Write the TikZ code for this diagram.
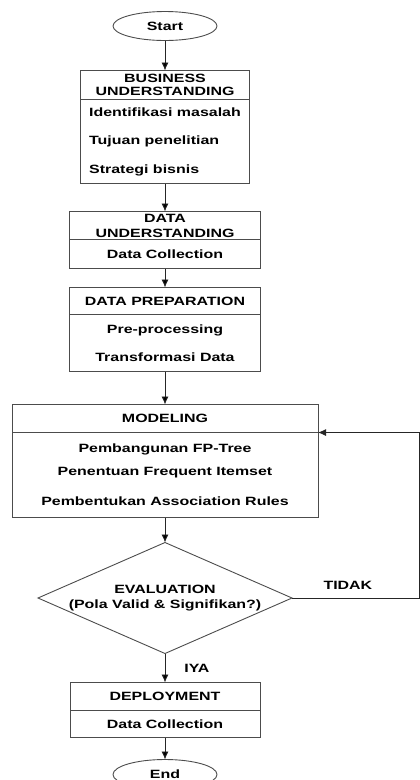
\documentclass[tikz,border=0pt]{standalone}
\usepackage{fontspec}
\setmainfont[FakeStretch=1.33]{Liberation Sans}
\usepackage{xcolor}
\usepackage{tikz}
\usetikzlibrary {positioning}
\usetikzlibrary{arrows.meta}
\usetikzlibrary{shapes.geometric}
\tikzset{edge/.style = {->,> = {Latex[length=8pt,width=7pt]},draw=black!85}}

\begin{document}
\begin{tikzpicture}[auto,node distance=25pt,line width=0.9pt,every node/.style={outer sep=0pt},
    term node/.style={ellipse,draw=black!70,inner sep=0pt,minimum width=104pt,minimum height=29pt,font=\bfseries\fontsize{12}{14}\selectfont},
    head node/.style={rectangle,draw=black!70,inner sep=0pt,align=center,font=\bfseries\fontsize{12}{13.5}\selectfont},
    body node/.style={rectangle,draw=black!70,inner sep=0pt,align=center,font=\bfseries\fontsize{12}{28}\selectfont},
    dec node/.style={diamond,aspect=2.29,draw=black!70,inner sep=0pt,minimum width=254pt,minimum height=111pt,align=center,font=\bfseries\fontsize{12}{15}\selectfont},
    lbl/.style={font=\bfseries\fontsize{12}{14}\selectfont}]
                \useasboundingbox (0,0) rectangle (420pt,-780pt);

                \node[term node] (start) at (165pt,-26pt) {Start};
                \node[head node,minimum width=169pt,minimum height=29pt] (bhead) [below=30pt of start] {BUSINESS\\UNDERSTANDING};
                \node[body node,minimum width=169pt,minimum height=84pt,align=left,font=\bfseries\fontsize{12}{28.5}\selectfont] (bbody) [below=0pt of bhead] {Identifikasi masalah\\Tujuan penelitian\\Strategi bisnis};
                \node[head node,minimum width=191pt,minimum height=28pt,font=\bfseries\fontsize{12}{15}\selectfont] (uhead) [below=28pt of bbody] {DATA\\UNDERSTANDING};
                \node[body node,minimum width=191pt,minimum height=29pt] (ubody) [below=0pt of uhead] {Data Collection};
                \node[head node,minimum width=191pt,minimum height=27pt] (phead) [below=19pt of ubody] {DATA PREPARATION};
                \node[body node,minimum width=191pt,minimum height=57pt] (pbody) [below=0pt of phead] {Pre-processing\\Transformasi Data};
                \node[head node,minimum width=306pt,minimum height=28pt] (mhead) [below=33pt of pbody] {MODELING};
                \node[body node,minimum width=306pt,minimum height=85pt] (mbody) [below=0pt of mhead] {Pembangunan FP-Tree\\[-5pt]Penentuan Frequent Itemset\\[2pt]Pembentukan Association Rules};
                \node[dec node] (eval) [below=25pt of mbody] {EVALUATION\\(Pola Valid \& Signifikan?)};
                \node[head node,minimum width=190pt,minimum height=28pt] (dhead) [below=29pt of eval] {DEPLOYMENT};
                \node[body node,minimum width=190pt,minimum height=27pt] (dbody) [below=0pt of dhead] {Data Collection};
                \node[term node,minimum height=30pt] (end) [below=22pt of dbody] {End};
                \coordinate (back) at (419pt,0pt);

                \path[edge] (start) edge (bhead);
                \path[edge] (bbody) edge (uhead);
                \path[edge] (ubody) edge (phead);
                \path[edge] (pbody) edge (mhead);
                \path[edge] (mbody) edge (eval);
                \path[edge] (eval) edge node[lbl,right=16pt] {IYA} (dhead);
                \path[edge] (dbody) edge (end);
                \draw[edge] (eval.east) -- node[lbl,above=5pt,pos=0.44] {TIDAK} (eval.east -| back) |- (mhead.south east);
            \end{tikzpicture}
\end{document}
